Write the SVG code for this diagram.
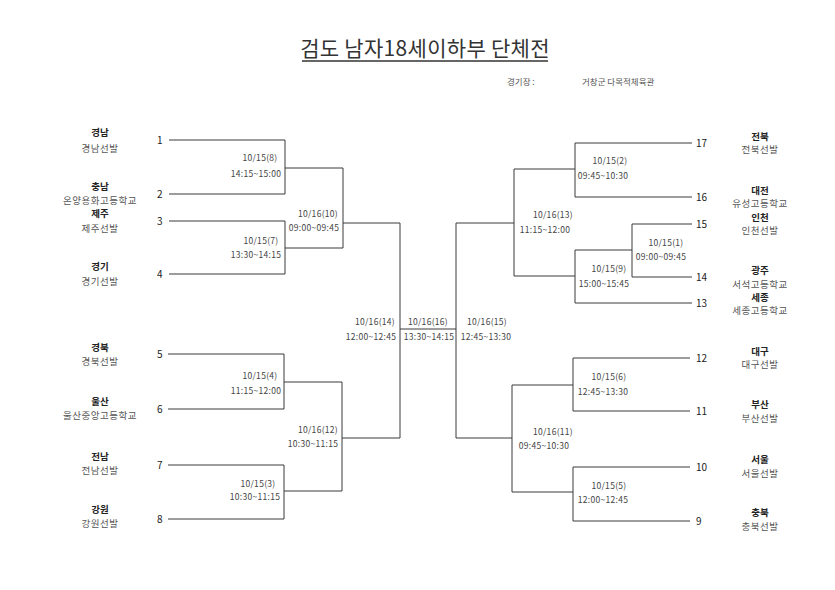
<svg xmlns="http://www.w3.org/2000/svg" width="835" height="590" viewBox="0 0 835 590">
<style>
text{font-family:"Noto Sans CJK KR","Noto Sans",sans-serif;}
.ln{stroke:#3a3a3a;stroke-width:1;fill:none;}
.tm{font-size:9.5px;font-weight:bold;fill:#222;text-anchor:middle;}
.sb{font-size:9.5px;fill:#555;text-anchor:middle;letter-spacing:0.5px;}
.nm{font-size:10px;fill:#222;}
.m{font-size:8.5px;fill:#444;text-anchor:middle;letter-spacing:0.3px;}
</style>
<rect width="835" height="590" fill="#fff"/>
<g id="title">
<text x="425" y="56" font-size="21" fill="#333" text-anchor="middle" letter-spacing="0.3">검도 남자18세이하부 단체전</text>
<line x1="302" y1="61" x2="548" y2="61" stroke="#333" stroke-width="1.3"/>
<text x="507" y="85" font-size="8.5" fill="#555">경기장 :</text>
<text x="582" y="85" font-size="8.5" fill="#555">거창군 다목적체육관</text>
</g>
<g id="connectors">
<path class="ln" d="M169,140H285V194H169M285,168H343M169,221H285V274H169M285,248H343M343,168V248M343,223H400"/>
<path class="ln" d="M168,354H284V409H168M284,382H342M168,465H284V519H168M284,491H342M342,382V491M342,438H400"/>
<path class="ln" d="M400,223V438M400,329H456M456,223V438"/>
<path class="ln" d="M456,223H514M514,169V276M514,169H575M575,143V197M575,143H692M575,197H692M514,276H575M575,250V303M575,303H692M575,250H632M632,224V277M632,224H692M632,277H692"/>
<path class="ln" d="M456,438H512M512,385V492M512,385H573M573,358V411M573,358H690M573,411H690M512,492H573M573,467V521M573,467H690M573,521H690"/>
</g>
<g id="n1"><text class="nm" x="157" y="144">1</text><text class="tm" x="100" y="136">경남</text><text class="sb" x="100" y="152">경남선발</text></g>
<g id="n2"><text class="nm" x="157" y="198">2</text><text class="tm" x="100" y="190">충남</text><text class="sb" x="100" y="204">온양용화고등학교</text></g>
<g id="n3"><text class="nm" x="157" y="225">3</text><text class="tm" x="100" y="217">제주</text><text class="sb" x="100" y="232">제주선발</text></g>
<g id="n4"><text class="nm" x="157" y="278">4</text><text class="tm" x="100" y="270">경기</text><text class="sb" x="100" y="285">경기선발</text></g>
<g id="n5"><text class="nm" x="157" y="358">5</text><text class="tm" x="100" y="351">경북</text><text class="sb" x="100" y="365">경북선발</text></g>
<g id="n6"><text class="nm" x="157" y="413">6</text><text class="tm" x="100" y="405">울산</text><text class="sb" x="100" y="419">울산중앙고등학교</text></g>
<g id="n7"><text class="nm" x="157" y="469">7</text><text class="tm" x="100" y="460">전남</text><text class="sb" x="100" y="474">전남선발</text></g>
<g id="n8"><text class="nm" x="157" y="523">8</text><text class="tm" x="100" y="513">강원</text><text class="sb" x="100" y="527">강원선발</text></g>
<g id="n17"><text class="nm" x="696" y="147">17</text><text class="tm" x="760" y="140">전북</text><text class="sb" x="760" y="153">전북선발</text></g>
<g id="n16"><text class="nm" x="696" y="201">16</text><text class="tm" x="760" y="194">대전</text><text class="sb" x="760" y="207">유성고등학교</text></g>
<g id="n15"><text class="nm" x="696" y="228">15</text><text class="tm" x="760" y="221">인천</text><text class="sb" x="760" y="234">인천선발</text></g>
<g id="n14"><text class="nm" x="696" y="281">14</text><text class="tm" x="760" y="274">광주</text><text class="sb" x="760" y="288">서석고등학교</text></g>
<g id="n13"><text class="nm" x="696" y="307">13</text><text class="tm" x="760" y="301">세종</text><text class="sb" x="760" y="314">세종고등학교</text></g>
<g id="n12"><text class="nm" x="696" y="362">12</text><text class="tm" x="760" y="355">대구</text><text class="sb" x="760" y="368">대구선발</text></g>
<g id="n11"><text class="nm" x="696" y="415">11</text><text class="tm" x="760" y="408">부산</text><text class="sb" x="760" y="422">부산선발</text></g>
<g id="n10"><text class="nm" x="696" y="471">10</text><text class="tm" x="760" y="463">서울</text><text class="sb" x="760" y="477">서울선발</text></g>
<g id="n9"><text class="nm" x="696" y="525">9</text><text class="tm" x="760" y="516">충북</text><text class="sb" x="760" y="530">충북선발</text></g>
<g id="matches">
<text class="m" x="260" y="161">10/15(8)</text><text class="m" x="256" y="177">14:15~15:00</text>
<text class="m" x="261" y="244">10/15(7)</text><text class="m" x="256" y="258">13:30~14:15</text>
<text class="m" x="318" y="217">10/16(10)</text><text class="m" x="314" y="231">09:00~09:45</text>
<text class="m" x="260" y="379">10/15(4)</text><text class="m" x="256" y="394">11:15~12:00</text>
<text class="m" x="258" y="487">10/15(3)</text><text class="m" x="255" y="500">10:30~11:15</text>
<text class="m" x="318" y="433">10/16(12)</text><text class="m" x="313" y="447">10:30~11:15</text>
<text class="m" x="375" y="325">10/16(14)</text><text class="m" x="371" y="340">12:00~12:45</text>
<text class="m" x="428" y="325">10/16(16)</text><text class="m" x="429" y="340">13:30~14:15</text>
<text class="m" x="487" y="325">10/16(15)</text><text class="m" x="486" y="340">12:45~13:30</text>
<text class="m" x="610" y="164">10/15(2)</text><text class="m" x="603" y="179">09:45~10:30</text>
<text class="m" x="553" y="218">10/16(13)</text><text class="m" x="545" y="233">11:15~12:00</text>
<text class="m" x="666" y="246">10/15(1)</text><text class="m" x="661" y="260">09:00~09:45</text>
<text class="m" x="609" y="272">10/15(9)</text><text class="m" x="604" y="287">15:00~15:45</text>
<text class="m" x="609" y="380">10/15(6)</text><text class="m" x="603" y="395">12:45~13:30</text>
<text class="m" x="553" y="435">10/16(11)</text><text class="m" x="544" y="449">09:45~10:30</text>
<text class="m" x="609" y="489">10/15(5)</text><text class="m" x="603" y="503">12:00~12:45</text>
</g>
</svg>
